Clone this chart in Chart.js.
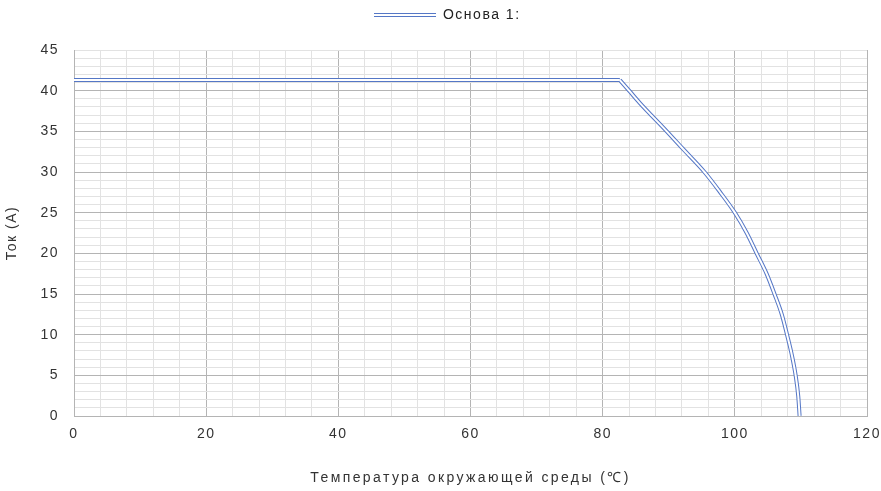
<!DOCTYPE html>
<html>
<head>
<meta charset="utf-8">
<script src="https://cdn.jsdelivr.net/npm/chart.js@4"></script>
<style>
  html, body { margin: 0; padding: 0; background: #fff; }
  #wrap { width: 881px; height: 491px; }
</style>
</head>
<body>
<div id="wrap"><canvas id="deratingChart"></canvas></div>
<script>
// Кривая снижения тока от температуры: горизонтальный участок и спад
const flatTemp = [0, 82.6];
const flatCurrent = [41.3, 41.3];
const dropTemp = [82.6, 84.0, 85.6, 89.7, 92.2, 95.4, 97.7, 100.0, 101.8, 103.3, 104.8, 106.0, 107.1, 107.9, 108.6, 109.2, 109.6, 109.8];
const dropCurrent = [41.3, 40.0, 38.5, 35.0, 32.8, 30.0, 27.6, 25.0, 22.5, 20.0, 17.5, 15.0, 12.5, 10.0, 7.6, 5.0, 2.4, 0];
const xTicks = [0, 20, 40, 60, 80, 100, 120];
const yTicks = [0, 5, 10, 15, 20, 25, 30, 35, 40, 45];

const seriesName = 'Основа 1:';
const lineBlue = '#5577c6';
const majorGrid = '#b4b4b4';
const minorGrid = '#e2e2e2';

const toPoints = (xs, ys) => xs.map((x, i) => ({ x: x, y: ys[i] }));
const flatPoints = toPoints(flatTemp, flatCurrent);
const dropPoints = toPoints(dropTemp, dropCurrent);

// значок легенды: двойная линия
const legendIcon = document.createElement('canvas');
legendIcon.width = 62;
legendIcon.height = 4;
const ic = legendIcon.getContext('2d');
ic.fillStyle = lineBlue;
ic.fillRect(0, 0, 62, 4);
ic.fillStyle = '#ffffff';
ic.fillRect(0, 1, 62, 2);

// двойная линия = широкая синяя + узкая белая поверх
function outer(label, data, smooth) {
    return {
        label: label, data: data, showLine: true,
        borderColor: lineBlue, borderWidth: 4, pointRadius: 0,
        pointStyle: legendIcon, order: 1,
        cubicInterpolationMode: smooth ? 'monotone' : 'default'
    };
}
function inner(data, smooth) {
    return {
        label: 'inner', data: data, showLine: true,
        borderColor: '#ffffff', borderWidth: 2, pointRadius: 0, order: 0,
        cubicInterpolationMode: smooth ? 'monotone' : 'default'
    };
}

// отступ под легендой
const legendGap = {
    id: 'legendGap',
    beforeInit(chart) {
        const fit = chart.legend.fit;
        chart.legend.fit = function () {
            fit.call(this);
            this.height += 18;
        };
    }
};

// разрядка букв во всех подписях, у подписи оси X чуть шире
const spacedText = {
    id: 'spacedText',
    beforeDraw(chart) {
        const xs = chart.scales.x;
        if (xs && !xs._spacedTitle) {
            const drawTitle = xs.drawTitle;
            xs.drawTitle = function () {
                const ctx = this.ctx;
                const prev = ctx.letterSpacing;
                ctx.letterSpacing = '2.4px';
                drawTitle.apply(this, arguments);
                ctx.letterSpacing = prev;
            };
            xs._spacedTitle = true;
        }
        chart.ctx.letterSpacing = '1.5px';
    },
    afterDraw(chart) {
        chart.ctx.letterSpacing = '0px';
    }
};

document.addEventListener('DOMContentLoaded', () => {
    const canvas = document.getElementById('deratingChart');
    if (!canvas) return;

    new Chart(canvas, {
        type: 'scatter',
        data: {
            datasets: [
                outer(seriesName, flatPoints, false),
                outer('drop', dropPoints, true),
                inner(flatPoints, false),
                inner(dropPoints, true)
            ]
        },
        plugins: [legendGap, spacedText],
        options: {
            responsive: true,
            maintainAspectRatio: false,
            animation: false,
            layout: { padding: { top: 0, right: 0, left: 0, bottom: 0 } },
            plugins: {
                legend: {
                    position: 'top',
                    labels: {
                        usePointStyle: true,
                        pointStyleWidth: 62,
                        color: '#222',
                        font: { family: 'Liberation Sans', size: 14 },
                        padding: 8,
                        filter: item => item.datasetIndex === 0
                    }
                },
                tooltip: { enabled: false }
            },
            scales: {
                x: {
                    type: 'linear',
                    min: 0,
                    max: 120,
                    afterBuildTicks: axis => {
                        axis.ticks = [];
                        for (let v = 0; v <= 120; v += 4) axis.ticks.push({ value: v });
                    },
                    afterFit: axis => {
                        axis.height = 75;
                        axis.paddingRight = 14;
                    },
                    grid: {
                        drawTicks: false,
                        color: c => (c.tick.value % 20 === 0 ? majorGrid : minorGrid)
                    },
                    border: { color: majorGrid },
                    ticks: {
                        padding: 10,
                        maxRotation: 0,
                        autoSkip: false,
                        color: '#333',
                        font: { family: 'Liberation Sans', size: 14 },
                        callback: v => (xTicks.includes(v) ? v : '')
                    },
                    title: {
                        display: true,
                        text: 'Температура окружающей среды (℃)',
                        color: '#333',
                        font: { family: 'Liberation Sans', size: 14 },
                        padding: { top: 18 }
                    }
                },
                y: {
                    min: 0,
                    max: 45,
                    afterBuildTicks: axis => {
                        axis.ticks = [];
                        for (let v = 0; v <= 45; v += 1) axis.ticks.push({ value: v });
                    },
                    afterFit: axis => { axis.width = 74; },
                    grid: {
                        drawTicks: false,
                        color: c => (c.tick.value % 5 === 0 && c.tick.value !== 45 ? majorGrid : minorGrid)
                    },
                    border: { color: majorGrid },
                    ticks: {
                        padding: 15,
                        autoSkip: false,
                        color: '#333',
                        font: { family: 'Liberation Sans', size: 14 },
                        callback: v => (yTicks.includes(v) ? v : '')
                    },
                    title: {
                        display: true,
                        text: 'Ток (A)',
                        color: '#333',
                        font: { family: 'Liberation Sans', size: 14 },
                        padding: { bottom: 0 }
                    }
                }
            }
        }
    });
});
</script>
</body>
</html>
